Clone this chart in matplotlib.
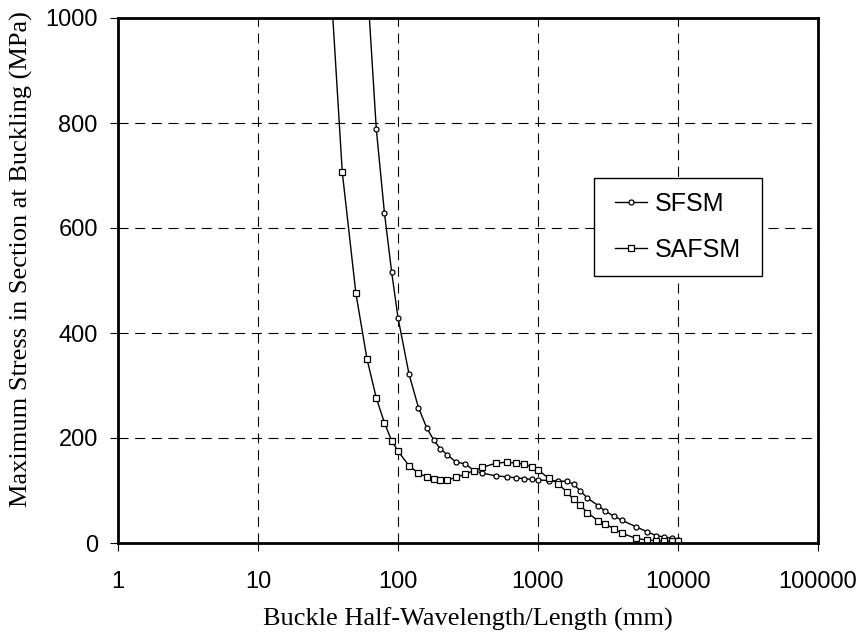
import matplotlib
matplotlib.use("Agg")
import matplotlib.pyplot as plt
from matplotlib.patches import Rectangle

# Buckle half-wavelength (mm) and max stress (MPa)
sfsm_x = [60, 70, 80, 90, 100, 120, 140, 160, 180, 200, 225, 260, 300, 350, 400,
          500, 600, 700, 800, 900, 1000, 1200, 1400, 1600, 1800, 2000, 2250, 2700,
          3000, 3500, 4000, 5000, 6000, 7000, 8000, 9000, 10000]
sfsm_y = [1075, 788, 629, 517, 429, 321, 258, 220, 196, 180, 168, 154, 151, 138, 133,
          128, 126, 124, 122.5, 121, 120, 119, 118, 117.5, 112, 99.6, 85.7, 71,
          61, 51, 43, 31, 21.6, 14, 11.4, 8.9, 5.7]

safsm_x = [30, 40, 50, 60, 70, 80, 90, 100, 120, 140, 160, 180, 200, 225, 260, 300,
           350, 400, 500, 600, 700, 800, 900, 1000, 1200, 1400, 1600, 1800, 2000,
           2250, 2700, 3000, 3500, 4000, 5000, 6000, 7000, 8000, 9000, 10000]
safsm_y = [1250, 706, 476, 351, 276, 229, 195, 175, 147, 133, 126, 121, 120, 120, 125, 131,
           138, 144, 152, 154, 152, 150, 145, 139, 123, 113, 97, 83, 72,
           58, 42, 37, 26.7, 18.4, 8.9, 5.7, 4.5, 4, 3.8, 3.5]

x_ticks = [1, 10, 100, 1000, 10000, 100000]
x_tick_labels = ["1", "10", "100", "1000", "10000", "100000"]
y_ticks = [0, 200, 400, 600, 800, 1000]

fig = plt.figure(figsize=(8.62, 6.33), dpi=100)
ax = fig.add_axes([118/862, 1-543/633, 700/862, 525/633])

ax.plot(sfsm_x, sfsm_y, color="black", lw=1.0, marker="o", markersize=3.6,
        markerfacecolor="white", markeredgecolor="black", markeredgewidth=0.9,
        label="SFSM", clip_on=True)
ax.plot(safsm_x, safsm_y, color="black", lw=1.0, marker="s", markersize=3.8,
        markerfacecolor="white", markeredgecolor="black", markeredgewidth=0.9,
        label="SAFSM", clip_on=True)

ax.set_xscale("log")
ax.set_xlim(1, 100000)
ax.set_ylim(0, 1000)
ax.set_xticks(x_ticks)
ax.set_xticklabels(x_tick_labels)
ax.minorticks_off()
ax.set_yticks(y_ticks)

ax.grid(True, which="major", color="black", lw=0.8, linestyle=(0, (9, 6)))
ax.set_axisbelow(True)

for s in ax.spines.values():
    s.set_linewidth(2.0)

ax.tick_params(direction="out", length=6, width=0.8)
ax.tick_params(axis="x", pad=14)
ax.tick_params(axis="y", pad=8.5)
for lab in ax.get_xticklabels() + ax.get_yticklabels():
    lab.set_fontfamily("Liberation Sans")
    lab.set_fontsize(17)

ax.set_xlabel("Buckle Half-Wavelength/Length (mm)", fontfamily="Liberation Serif",
              fontsize=19, labelpad=11)
ax.set_ylabel("Maximum Stress in Section at Buckling (MPa)", fontfamily="Liberation Serif",
              fontsize=19)
ax.yaxis.set_label_coords(-0.121, 0.54)

# legend box
ax.add_patch(Rectangle((0.68, 0.509), 0.24, 0.186, transform=ax.transAxes,
                       facecolor="white", edgecolor="black", lw=1.0, zorder=4))
leg = ax.legend(loc="center", bbox_to_anchor=(0.80, 0.602),
                prop={"family": "Liberation Sans", "size": 18},
                frameon=False, handlelength=1.3, handletextpad=0.3,
                labelspacing=0.9, borderpad=0.0, borderaxespad=0)
leg.set_zorder(5)

fig.savefig("out.png", dpi=100)
